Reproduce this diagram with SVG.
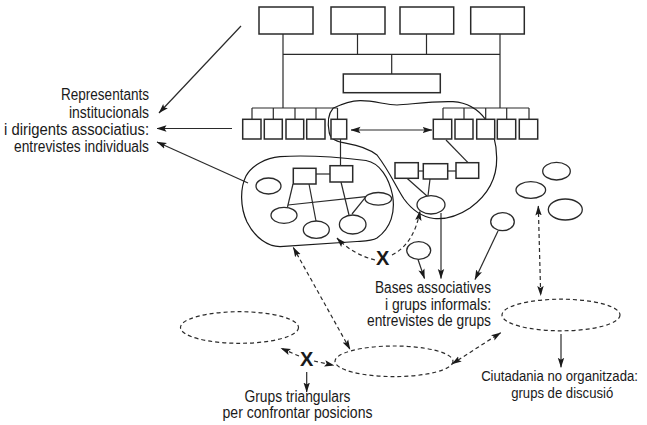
<svg xmlns="http://www.w3.org/2000/svg" width="647" height="425" viewBox="0 0 647 425">
<defs>
<marker id="ah" markerWidth="10" markerHeight="8" refX="9.5" refY="4" orient="auto-start-reverse" markerUnits="userSpaceOnUse">
<path d="M0,0.8 L10,4 L0,7.2 L2,4 z" fill="#1a1a1a"/>
</marker>
</defs>
<style>
.bx{fill:#fff;stroke:#2a2a2a;stroke-width:1.5}
.ln{fill:none;stroke:#2a2a2a;stroke-width:1.2}
.el{fill:#fff;stroke:#2a2a2a;stroke-width:1.3}
.blob{fill:none;stroke:#1a1a1a;stroke-width:1.2}
.dl{fill:none;stroke:#2a2a2a;stroke-width:1.2;stroke-dasharray:4 3}
.de{fill:none;stroke:#2a2a2a;stroke-width:1.2;stroke-dasharray:4 3}
.ar{marker-end:url(#ah)}
.da{marker-start:url(#ah);marker-end:url(#ah)}
.t{font-family:"Liberation Sans",Arial,sans-serif;font-size:16px;fill:#1a1a1a}
.t15{font-family:"Liberation Sans",Arial,sans-serif;font-size:15px;fill:#1a1a1a;text-anchor:middle}
.x{font-family:"Liberation Sans",Arial,sans-serif;font-size:20px;font-weight:bold;fill:#1a1a1a;text-anchor:middle}
</style>
<rect width="647" height="425" fill="#fff"/>

<g id="connectors">
<path class="ln" d="M283,34 V108 M357.5,34 V54.3 M426.5,34 V54.3 M500,34 V108 M283,54.3 H500 M391.7,54.3 V74"/>
<path class="ln" d="M252,108 H337.5 M252,108 V119.3 M273.3,108 V119.3 M295,108 V119.3 M316,108 V119.3 M337.5,108 V119.3"/>
<path class="ln" d="M443,108 H529 M443,108 V119.3 M464,108 V119.3 M485.7,108 V119.3 M506.7,108 V119.3 M529,108 V119.3"/>
<line class="ln da" x1="351" y1="130" x2="432" y2="130"/>
<line class="ln" x1="340.5" y1="139" x2="340.5" y2="165.7"/>
<line class="ln" x1="446" y1="140" x2="468" y2="162.7"/>
<line class="ln ar" x1="241" y1="26" x2="159" y2="113"/>
<line class="ln ar" x1="232" y1="128.5" x2="157" y2="128.5"/>
<line class="ln ar" x1="248" y1="183" x2="157" y2="142"/>
<line class="ln" x1="316" y1="174" x2="330" y2="174"/>
<line class="ln" x1="293" y1="184" x2="287.5" y2="207"/>
<line class="ln" x1="309" y1="184" x2="316" y2="221"/>
<line class="ln" x1="288" y1="205" x2="366" y2="196.7"/>
<line class="ln" x1="341" y1="182" x2="349" y2="215"/>
<line class="ln" x1="366" y1="196.7" x2="352" y2="214"/>
<line class="ln" x1="418.3" y1="171" x2="423.3" y2="171"/>
<line class="ln" x1="447.7" y1="171" x2="456" y2="171"/>
<line class="ln" x1="407" y1="178.3" x2="427" y2="196"/>
<line class="ln" x1="430" y1="179" x2="428" y2="196"/>
<line class="ln ar" x1="441" y1="213" x2="441" y2="278.5"/>
<line class="ln ar" x1="418" y1="259.5" x2="424.5" y2="278.5"/>
<line class="ln ar" x1="498" y1="231" x2="475" y2="279.5"/>
<line class="dl da" x1="538.3" y1="206" x2="540.7" y2="295.5"/>
<line class="dl da" x1="293.3" y1="247.5" x2="350" y2="349.3"/>
<path class="dl ar" d="M375,260 Q352,254 337,238"/>
<path class="dl ar" d="M392,255 Q414,244 420,211"/>
<line class="dl ar" x1="299" y1="356" x2="281" y2="348.3"/>
<line class="dl ar" x1="314" y1="361" x2="334" y2="365.5"/>
<line class="dl da" x1="452" y1="364" x2="500.7" y2="332.7"/>
<line class="ln ar" x1="306.7" y1="372" x2="306.7" y2="392"/>
<line class="ln ar" x1="561" y1="334" x2="561" y2="367.3"/>
</g>

<g id="blob-left">
<path class="blob" d="M280,156.7 C310,154.5 345,158 366,160.5 C380,163 389,178 392.5,195 C395.5,212 391,228 377,238 C372,241 365,241 357,241.5 L280,246.7 C268,246.5 255,238 247,222 C240,207 240,188 246,176 C252,165 266,158 280,156.7 Z"/>
</g>
<g id="blob-right">
<path class="blob" d="M333,108.3 C342,104 350,101 360,100.7 C375,100.5 385,105 397,105 C410,104.5 430,101 453,101.7 C466,102.5 478,109 486,120 C493,130 496.5,143 496.7,158 C497,178 488,195 470,208 C458,216 445,219.5 434,218.5 C422,217 412,210 404,199 C396,187 390,172 377,155 C368,148 357,145 346.7,143.3 C338,142 331,140 329.3,133 C327.5,124 328,114 333,108.3 Z"/>
</g>

<g id="top-boxes">
<rect class="bx" x="259" y="7" width="54" height="27"/>
<rect class="bx" x="331" y="7" width="54" height="27"/>
<rect class="bx" x="400" y="7" width="53.7" height="27"/>
<rect class="bx" x="470.7" y="7" width="53.6" height="27"/>
</g>
<g id="middle-box"><rect class="bx" x="343.3" y="74" width="97" height="18.7"/></g>
<g id="left-row">
<rect class="bx" x="242.7" y="119.3" width="18.3" height="19.7"/>
<rect class="bx" x="264.3" y="119.3" width="18" height="19.7"/>
<rect class="bx" x="286" y="119.3" width="17.7" height="19.7"/>
<rect class="bx" x="306.7" y="119.3" width="18.3" height="19.7"/>
<rect class="bx" x="331" y="119.3" width="15.7" height="19.7"/>
</g>
<g id="right-row">
<rect class="bx" x="433.3" y="119.3" width="18.4" height="19.7"/>
<rect class="bx" x="455" y="119.3" width="18" height="19.7"/>
<rect class="bx" x="476.7" y="119.3" width="18" height="19.7"/>
<rect class="bx" x="497.3" y="119.3" width="18.4" height="19.7"/>
<rect class="bx" x="519.3" y="119.3" width="18.4" height="19.7"/>
</g>
<g id="left-cluster">
<rect class="bx" x="293.3" y="168.3" width="22.7" height="15.7"/>
<rect class="bx" x="330" y="165.7" width="22.7" height="16.3"/>
<ellipse class="el" cx="268.5" cy="186" rx="12.5" ry="8"/>
<ellipse class="el" cx="284" cy="215.3" rx="13" ry="8"/>
<ellipse class="el" cx="316.3" cy="229.7" rx="13" ry="8.7"/>
<ellipse class="el" cx="352.7" cy="224.5" rx="13.3" ry="9.5"/>
<ellipse class="el" cx="378.3" cy="198.8" rx="13.3" ry="6.3"/>
</g>
<g id="right-cluster">
<rect class="bx" x="395" y="162.7" width="23.3" height="15.6"/>
<rect class="bx" x="423.3" y="163.7" width="24.4" height="15.3"/>
<rect class="bx" x="456" y="162.7" width="22.7" height="15.6"/>
<ellipse class="el" cx="431" cy="204.8" rx="14" ry="9.2"/>
</g>
<g id="loose-ellipses">
<ellipse class="el" cx="418.7" cy="250.5" rx="12" ry="8.8"/>
<ellipse class="el" cx="502.5" cy="221.7" rx="11.8" ry="9"/>
<ellipse class="el" cx="556.5" cy="171.2" rx="13.8" ry="8.8"/>
<ellipse class="el" cx="530.8" cy="190" rx="14.8" ry="8.3"/>
<ellipse class="el" cx="565.3" cy="209.5" rx="17" ry="10.5"/>
</g>
<g id="dashed-groups">
<ellipse class="de" cx="239.5" cy="327.5" rx="59" ry="15.8"/>
<ellipse class="de" cx="394" cy="361.3" rx="59" ry="15.3"/>
<ellipse class="de" cx="561" cy="315" rx="59" ry="15.8"/>
</g>

<g id="labels">
<text class="t" x="149" y="100" text-anchor="end" textLength="88" lengthAdjust="spacingAndGlyphs">Representants</text>
<text class="t" x="149" y="118" text-anchor="end" textLength="80" lengthAdjust="spacingAndGlyphs">institucionals</text>
<text class="t" x="149" y="135" text-anchor="end" textLength="145" lengthAdjust="spacingAndGlyphs">i dirigents associatius:</text>
<text class="t" x="149" y="152" text-anchor="end" textLength="135" lengthAdjust="spacingAndGlyphs">entrevistes individuals</text>

<text class="t" x="491" y="293.3" text-anchor="end" textLength="116" lengthAdjust="spacingAndGlyphs">Bases associatives</text>
<text class="t" x="491" y="310" text-anchor="end" textLength="106" lengthAdjust="spacingAndGlyphs">i grups informals:</text>
<text class="t" x="491" y="326.3" text-anchor="end" textLength="124" lengthAdjust="spacingAndGlyphs">entrevistes de grups</text>

<text class="t15" transform="translate(559.5,381.3) scale(0.875,1)" x="0" y="0">Ciutadania no organitzada:</text>
<text class="t15" transform="translate(562.2,397.5) scale(0.875,1)" x="0" y="0">grups de discusió</text>

<text class="t" x="297.5" y="401.7" text-anchor="middle" textLength="106" lengthAdjust="spacingAndGlyphs">Grups triangulars</text>
<text class="t" x="297.5" y="417.5" text-anchor="middle" textLength="150" lengthAdjust="spacingAndGlyphs">per confrontar posicions</text>

<text class="x" x="382.7" y="264.5">X</text>
<text class="x" x="306.7" y="365.5">X</text>
</g>
</svg>
